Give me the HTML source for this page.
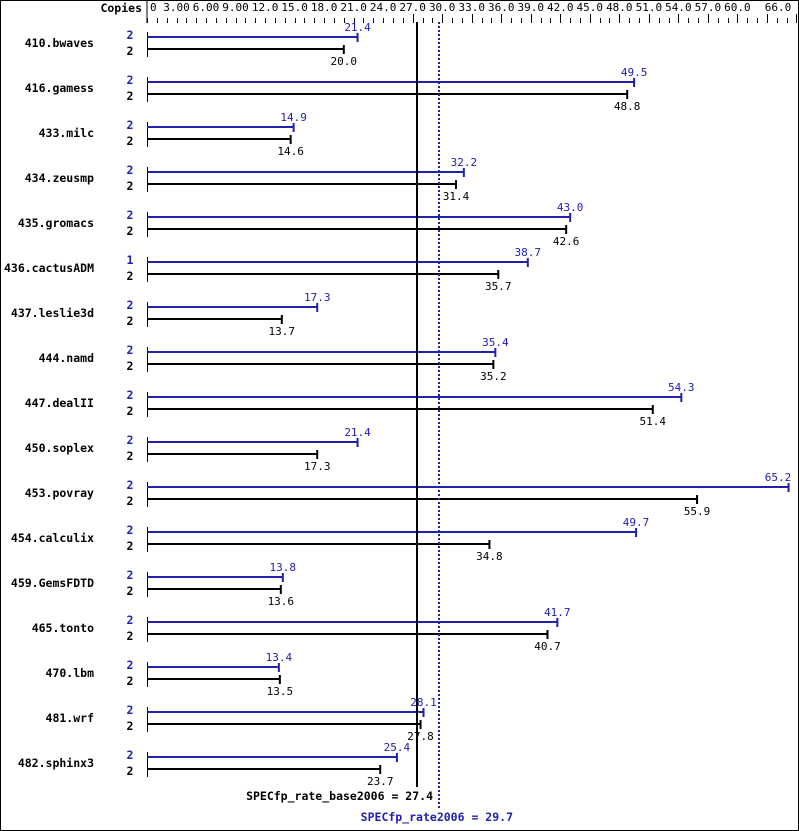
<!DOCTYPE html>
<html><head><meta charset="utf-8"><style>
html,body{margin:0;padding:0;background:#fff}
svg{display:block}
text{font-family:"DejaVu Sans Mono","Liberation Mono",monospace;font-size:11px}
.b{font-weight:bold;font-size:11.5px}
</style></head><body>
<svg id="s" width="799" height="831" xmlns="http://www.w3.org/2000/svg"></svg>
<script>
var s=document.getElementById('s'),h='';
var X0=147,K=9.84;function X(v){return X0+v*K;}
h+='<rect x="0.5" y="0.5" width="798" height="830" fill="none" stroke="#000"/>';
h+='<text x="142" y="12" text-anchor="end" class="b">Copies</text>';
h+='<line x1="147" y1="0" x2="147" y2="23" stroke="#000"/>';
for(var v=0;v<=66;v++){var x=Math.round(X(v))+0.5;var L=(v%3==0&&v>=27)?14:18;h+='<line x1="'+x+'" y1="'+L+'" x2="'+x+'" y2="23" stroke="#000"/>';}
for(var v=0;v<=60;v+=3){var t=v==0?'0':(v<12?v.toFixed(2):v.toFixed(1));h+='<text x="'+(v==0?150:X(v))+'" y="11" text-anchor="'+(v==0?'start':'middle')+'">'+t+'</text>';}
h+='<text x="778" y="11" text-anchor="middle">66.0</text>';
var d=[["410.bwaves",21.4,20.0,2],["416.gamess",49.5,48.8,2],["433.milc",14.9,14.6,2],["434.zeusmp",32.2,31.4,2],["435.gromacs",43.0,42.6,2],["436.cactusADM",38.7,35.7,1],["437.leslie3d",17.3,13.7,2],["444.namd",35.4,35.2,2],["447.dealII",54.3,51.4,2],["450.soplex",21.4,17.3,2],["453.povray",65.2,55.9,2],["454.calculix",49.7,34.8,2],["459.GemsFDTD",13.8,13.6,2],["465.tonto",41.7,40.7,2],["470.lbm",13.4,13.5,2],["481.wrf",28.1,27.8,2],["482.sphinx3",25.4,23.7,2]];
d.forEach(function(r,i){var o=45*i;
h+='<text x="94" y="'+(47+o)+'" text-anchor="end" class="b">'+r[0]+'</text>';
h+='<text x="130" y="'+(39+o)+'" text-anchor="middle" class="b" fill="#2121b0">'+r[3]+'</text>';
h+='<text x="130" y="'+(55+o)+'" text-anchor="middle" class="b">2</text>';
h+='<line x1="147.5" y1="'+(32+o)+'" x2="147.5" y2="'+(57+o)+'" stroke="#000"/>';
var xb=X(r[1]),xk=X(r[2]);
h+='<rect x="147" y="'+(36+o)+'" width="'+(xb-147)+'" height="2" fill="#2121b0"/>';
h+='<rect x="'+(xb-1)+'" y="'+(33+o)+'" width="2" height="9" fill="#2121b0"/>';
var lx=Math.min(xb,778);
h+='<text x="'+lx+'" y="'+(31+o)+'" text-anchor="middle" fill="#2121b0">'+r[1].toFixed(1)+'</text>';
h+='<rect x="147" y="'+(48+o)+'" width="'+(xk-147)+'" height="2" fill="#000"/>';
h+='<rect x="'+(xk-1)+'" y="'+(45+o)+'" width="2" height="9" fill="#000"/>';
h+='<text x="'+xk+'" y="'+(65+o)+'" text-anchor="middle">'+r[2].toFixed(1)+'</text>';
});
h+='<rect x="416" y="22" width="2" height="765" fill="#000"/>';
h+='<line x1="439" y1="22" x2="439" y2="808" stroke="#2121b0" stroke-width="2" stroke-dasharray="2,2"/>';
h+='<text x="433" y="800" text-anchor="end" class="b">SPECfp_rate_base2006 = 27.4</text>';
h+='<text x="513" y="821" text-anchor="end" class="b" fill="#2121b0">SPECfp_rate2006 = 29.7</text>';
s.innerHTML=h;
</script>
</body></html>
